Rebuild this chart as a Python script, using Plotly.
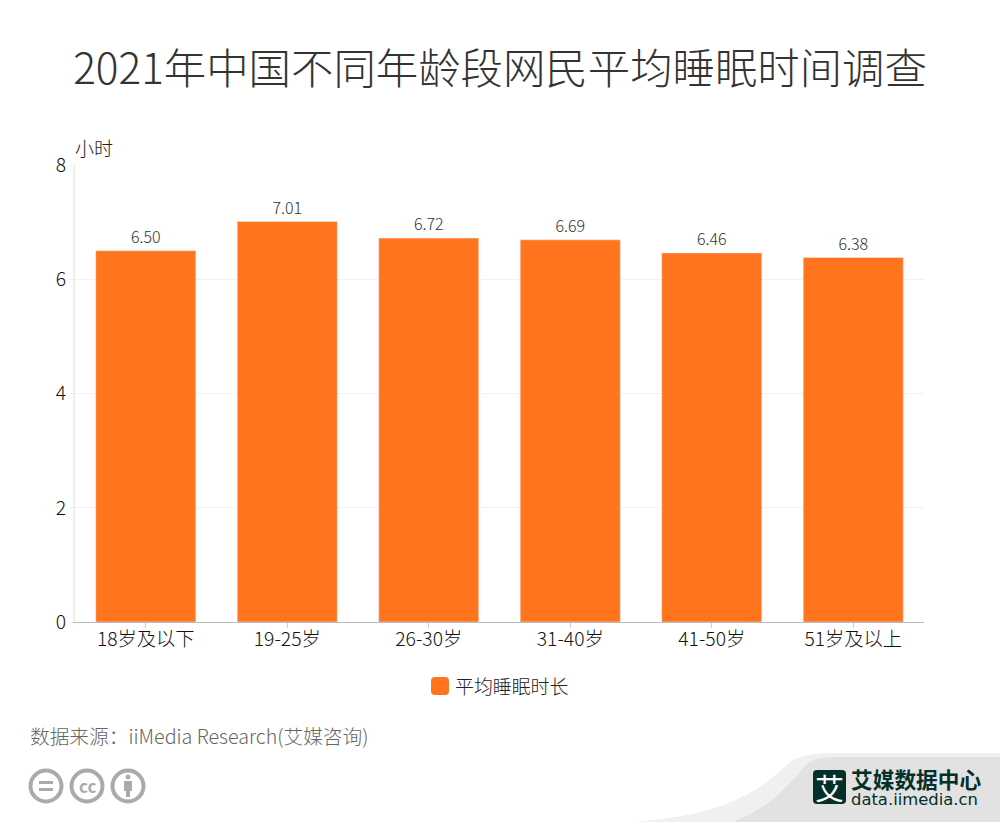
import plotly.graph_objects as go

title = "2021年中国不同年龄段网民平均睡眠时间调查"
categories = ["18岁及以下", "19-25岁", "26-30岁", "31-40岁", "41-50岁", "51岁及以上"]
values = [6.50, 7.01, 6.72, 6.69, 6.46, 6.38]
series_name = "平均睡眠时长"
unit = "小时"
source = "数据来源：iiMedia Research(艾媒咨询)"
y_ticks = [0, 2, 4, 6, 8]

FONT = "Noto Sans CJK SC"
ORANGE = "#ff741d"
L, R, T, B = 75, 924, 165, 622

def px(x): return (x - L) / (R - L)
def py(y): return (B - y) / (B - T)
def P(x, y): return f"{px(x):.5f},{py(y):.5f}"

def path(d, fill, line=None, width=0):
    return dict(type="path", xref="paper", yref="paper", path=d, fillcolor=fill,
                line=dict(color=line or fill, width=width), layer="above")

def circle(cx, cy, r, fill="rgba(0,0,0,0)", line="#aaaaaa", width=4):
    return dict(type="circle", xref="paper", yref="paper", x0=px(cx - r), x1=px(cx + r),
                y0=py(cy + r), y1=py(cy - r), fillcolor=fill, line=dict(color=line, width=width))

def rect(x0, y0, x1, y1, fill):
    return dict(type="rect", xref="paper", yref="paper", x0=px(x0), x1=px(x1), y0=py(y1), y1=py(y0),
                fillcolor=fill, line=dict(width=0))

def rrect(x0, y0, x1, y1, r, fill):
    d = (f"M{P(x0+r,y0)} L{P(x1-r,y0)} Q{P(x1,y0)} {P(x1,y0+r)} L{P(x1,y1-r)} Q{P(x1,y1)} {P(x1-r,y1)} "
         f"L{P(x0+r,y1)} Q{P(x0,y1)} {P(x0,y1-r)} L{P(x0,y0+r)} Q{P(x0,y0)} {P(x0+r,y0)} Z")
    return path(d, fill)

shapes = [
    # footer swoosh
    path(f"M{P(636,822)} C{P(700,816)} {P(745,806)} {P(790,762)} C{P(802,755)} {P(815,753)} {P(830,753)} "
         f"L{P(1000,753)} L{P(1000,822)} Z", "#f0f0f0"),
    path(f"M{P(733,822)} C{P(765,810)} {P(785,790)} {P(803,768)} C{P(810,760)} {P(820,757)} {P(835,757)} "
         f"L{P(1000,757)} L{P(1000,822)} Z", "#e2e2e2"),
    rrect(813, 770, 846, 804, 4, "#04302a"),
    # legend swatch
    rrect(431, 677, 449, 695, 4, ORANGE),
    # licence icons
    circle(46, 786, 15.5), circle(87, 786, 15.5), circle(128, 786, 15.5),
    rect(39, 781, 53, 784, "#aaaaaa"), rect(39, 788, 53, 791, "#aaaaaa"),
    circle(128, 777, 2, fill="#aaaaaa", line="#aaaaaa", width=1),
    rect(124, 781, 132, 791, "#aaaaaa"), rect(126, 791, 130, 797, "#aaaaaa"),
]

def note(text, x, y, size, color, xanchor="left", family=FONT, weight=None):
    return dict(text=text, x=px(x), y=py(y), xref="paper", yref="paper", showarrow=False,
                xanchor=xanchor, yanchor="middle", borderpad=0, align="left",
                font=dict(family=family, size=size, color=color, weight=weight))

brand = ("<span style=\"font-size:21.7px;font-family:'Noto Sans CJK SC';font-weight:bold\">艾媒数据中心</span><br>"
         "<span style=\"font-size:16.4px\">data.iimedia.cn</span>")

annotations = [
    note(unit, 74, 148, 19, "#222222", weight=300),
    note(series_name, 454, 685, 18.9, "#222222", weight=300),
    note(source, 29, 735, 19.7, "#666666", weight=300),
    note("<b>cc</b>", 87, 785, 17, "#aaaaaa", xanchor="center"),
    note("艾", 829.5, 787, 29, "#ffffff", xanchor="center"),
    note(brand, 850, 786, 13, "#04302a", family="DejaVu Sans"),
]

fig = go.Figure(go.Bar(
    x=categories, y=values, name=series_name, width=0.707,
    marker=dict(color=ORANGE),
    text=[f"{v:.2f}" for v in values], textposition="outside", cliponaxis=False,
    textfont=dict(family=FONT, size=16, color="#333333", weight=300),
))
fig.update_layout(
    width=1000, height=822, autosize=False, showlegend=False,
    paper_bgcolor="white", plot_bgcolor="white",
    margin=dict(l=L, r=1000 - R, t=T, b=822 - B, pad=0),
    font=dict(family=FONT, color="#333333"),
    title=dict(text=title, x=0.5, xanchor="center", y=1 - 69 / 822, yanchor="middle",
               font=dict(family=FONT, size=42.4, color="#333333", weight=300)),
    shapes=shapes, annotations=annotations,
    xaxis=dict(showgrid=False, showline=True, linecolor="#bbbbbb", linewidth=1,
               ticks="outside", ticklen=5, tickcolor="#cccccc", ticklabelstandoff=-5,
               tickfont=dict(family=FONT, size=19.3, color="#111111", weight=300)),
    yaxis=dict(range=[0, 8], tickvals=y_ticks, showgrid=True, gridcolor="#f2f2f2", gridwidth=1,
               zeroline=False, showline=True, linecolor="#eeeeee", linewidth=2,
               ticks="outside", ticklen=3, tickcolor="#eeeeee",
               tickfont=dict(family=FONT, size=19.3, color="#111111", weight=300)),
)
fig.write_html("out.html", post_script="document.body.style.margin='0';",
               config={"displayModeBar": False})
